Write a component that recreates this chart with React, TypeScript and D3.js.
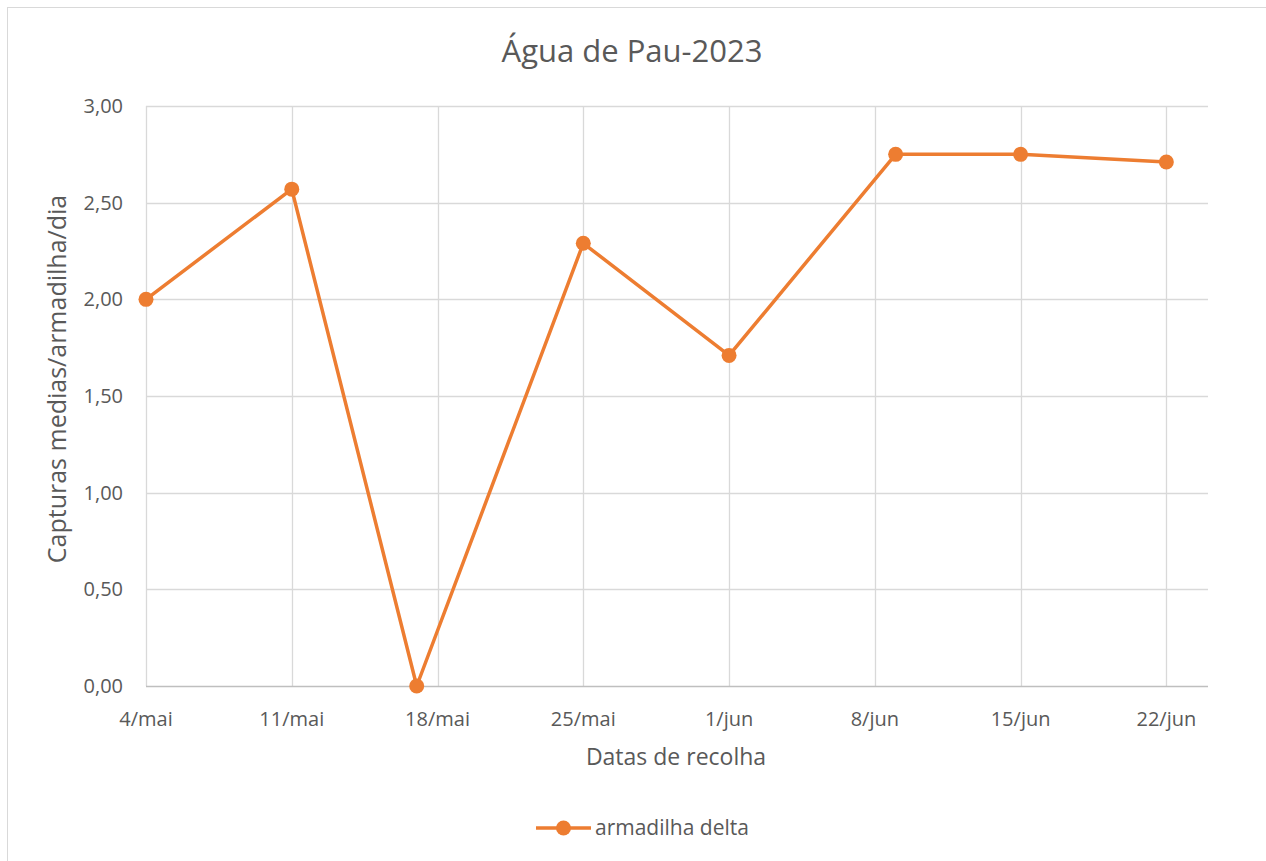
import React, { useRef, useEffect } from 'react';
import * as d3 from 'd3';

const dates = ['2023-05-04', '2023-05-11', '2023-05-17', '2023-05-25', '2023-06-01', '2023-06-09', '2023-06-15', '2023-06-22'];
const values = [2.0, 2.57, 0.0, 2.29, 1.71, 2.75, 2.75, 2.71];
const tickDates = ['2023-05-04', '2023-05-11', '2023-05-18', '2023-05-25', '2023-06-01', '2023-06-08', '2023-06-15', '2023-06-22'];
const yTicks = [0, 0.5, 1, 1.5, 2, 2.5, 3];
const months = ['jan', 'fev', 'mar', 'abr', 'mai', 'jun', 'jul', 'ago', 'set', 'out', 'nov', 'dez'];

const App = () => {
  const svgRef = useRef<SVGSVGElement>(null);
  const width = 1266;
  const height = 861;
  const margin = { top: 106, right: 58, bottom: 175, left: 146 };
  const font = '"Open Sans", "Noto Sans", sans-serif';
  const orange = '#ED7D31';
  const textColor = '#595959';

  useEffect(() => {
    const svg = d3.select(svgRef.current);
    svg.selectAll('*').remove();

    const parse = d3.timeParse('%Y-%m-%d');

    svg.append('rect')
      .attr('x', 7.5).attr('y', 7.5)
      .attr('width', width + 10).attr('height', height + 10)
      .attr('fill', '#fff')
      .attr('stroke', '#d9d9d9');

    const x = d3.scaleTime()
      .domain([parse('2023-05-04')!, parse('2023-06-24')!])
      .range([margin.left, width - margin.right]);

    const y = d3.scaleLinear()
      .domain([0, 3])
      .range([height - margin.bottom, margin.top]);

    // horizontal gridlines
    svg.append('g')
      .selectAll('line')
      .data(yTicks.slice(1))
      .join('line')
      .attr('x1', margin.left).attr('x2', width - margin.right)
      .attr('y1', d => Math.round(y(d)) + 0.5).attr('y2', d => Math.round(y(d)) + 0.5)
      .attr('stroke', '#d9d9d9').attr('stroke-width', 1.3);

    // vertical gridlines
    svg.append('g')
      .selectAll('line')
      .data(tickDates.map(d => parse(d)!))
      .join('line')
      .attr('x1', d => Math.round(x(d)) + 0.5).attr('x2', d => Math.round(x(d)) + 0.5)
      .attr('y1', margin.top).attr('y2', height - margin.bottom)
      .attr('stroke', '#d9d9d9').attr('stroke-width', 1.3);

    // x axis line
    svg.append('line')
      .attr('x1', margin.left).attr('x2', width - margin.right)
      .attr('y1', Math.round(y(0)) + 0.5).attr('y2', Math.round(y(0)) + 0.5)
      .attr('stroke', '#bfbfbf').attr('stroke-width', 1.3);

    // y tick labels
    svg.append('g')
      .selectAll('text')
      .data(yTicks)
      .join('text')
      .attr('x', 123).attr('y', d => y(d))
      .attr('dy', '0.35em')
      .attr('text-anchor', 'end')
      .attr('font-family', font).attr('font-size', 20)
      .attr('fill', textColor)
      .text(d => d3.format('.2f')(d).replace('.', ','));

    // x tick labels
    svg.append('g')
      .selectAll('text')
      .data(tickDates.map(d => parse(d)!))
      .join('text')
      .attr('x', d => x(d)).attr('y', 726)
      .attr('text-anchor', 'middle')
      .attr('font-family', font).attr('font-size', 20)
      .attr('fill', textColor)
      .text(d => `${d.getDate()}/${months[d.getMonth()]}`);

    // line
    const pts = dates.map((d, i) => ({ date: parse(d)!, value: values[i] }));
    const line = d3.line<{ date: Date; value: number }>()
      .x(d => x(d.date))
      .y(d => y(d.value));

    svg.append('path')
      .datum(pts)
      .attr('fill', 'none')
      .attr('stroke', orange)
      .attr('stroke-width', 3.5)
      .attr('stroke-linejoin', 'round')
      .attr('d', line);

    svg.append('g')
      .selectAll('circle')
      .data(pts)
      .join('circle')
      .attr('cx', d => x(d.date)).attr('cy', d => y(d.value))
      .attr('r', 7.5)
      .attr('fill', orange);

    // title
    svg.append('text')
      .attr('x', 632).attr('y', 62)
      .attr('text-anchor', 'middle')
      .attr('font-family', font).attr('font-size', 31)
      .attr('fill', textColor)
      .text('Água de Pau-2023');

    // axis titles
    svg.append('text')
      .attr('x', 676).attr('y', 765)
      .attr('text-anchor', 'middle')
      .attr('font-family', font).attr('font-size', 23)
      .attr('fill', textColor)
      .text('Datas de recolha');

    svg.append('text')
      .attr('transform', `translate(66,379) rotate(-90)`)
      .attr('text-anchor', 'middle')
      .attr('font-family', font).attr('font-size', 25)
      .attr('fill', textColor)
      .text('Capturas medias/armadilha/dia');

    // legend
    const lg = svg.append('g').attr('transform', 'translate(536,828)');
    lg.append('line')
      .attr('x1', 0).attr('x2', 55).attr('y1', 0).attr('y2', 0)
      .attr('stroke', orange).attr('stroke-width', 3.5);
    lg.append('circle').attr('cx', 27.5).attr('cy', 0).attr('r', 7.5).attr('fill', orange);
    lg.append('text')
      .attr('x', 59).attr('y', 0).attr('dy', '0.35em')
      .attr('font-family', font).attr('font-size', 21)
      .attr('fill', textColor)
      .text('armadilha delta');
  }, []);

  return (
    <svg ref={svgRef} width={width} height={height}
      style={{ position: 'absolute', left: 0, top: 0, background: '#fff' }} />
  );
};

export default App;
